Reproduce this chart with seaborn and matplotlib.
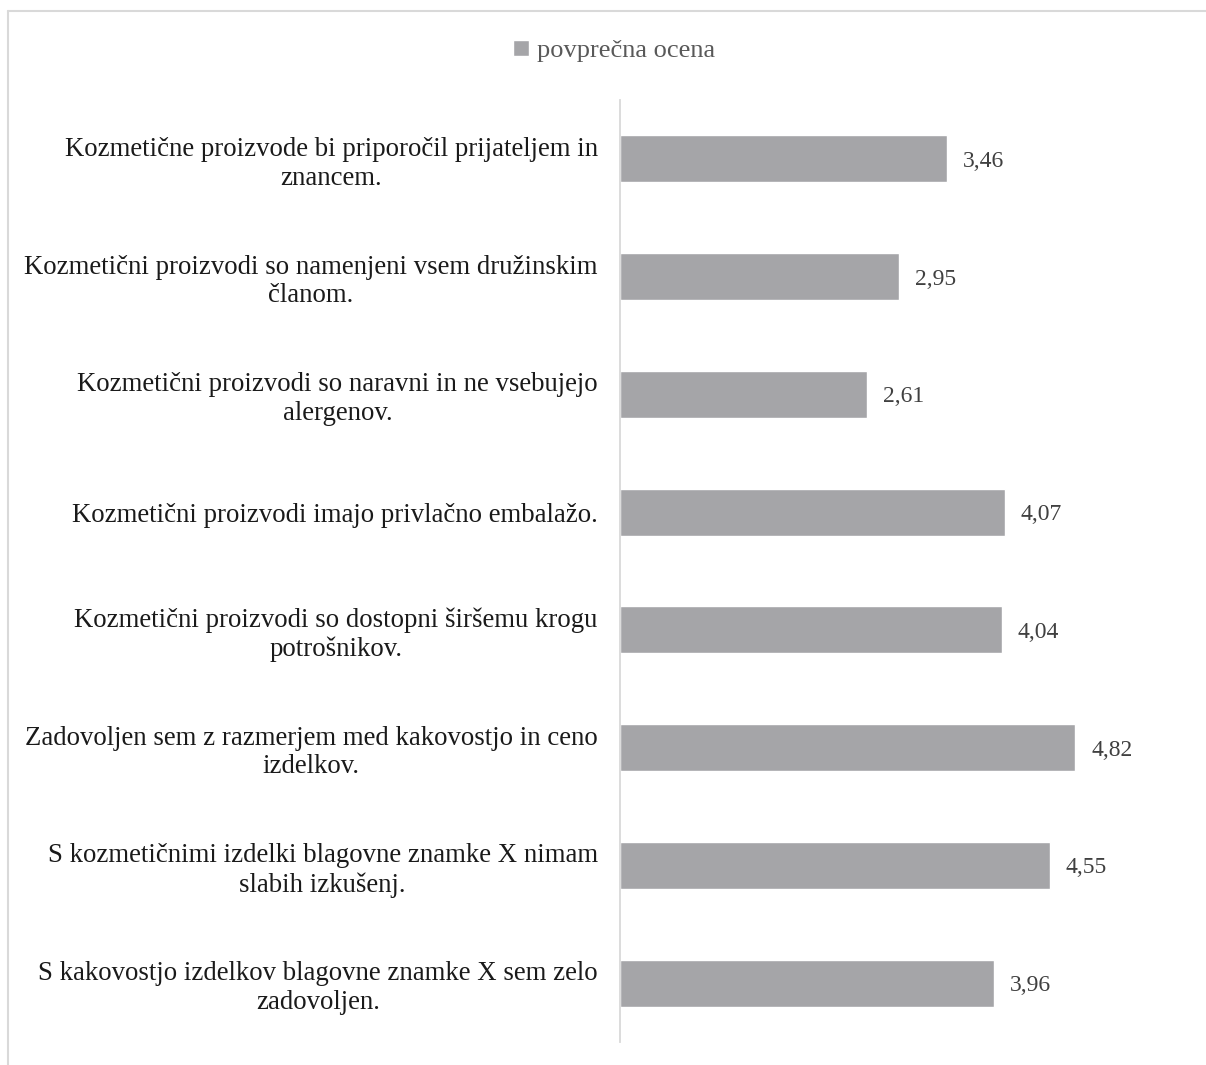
import matplotlib
matplotlib.use("Agg")
import matplotlib.pyplot as plt
import seaborn as sns
import pandas as pd
from matplotlib.lines import Line2D

categories = [
    "Kozmetične proizvode bi priporočil prijateljem in\nznancem.",
    "Kozmetični proizvodi so namenjeni vsem družinskim\nčlanom.",
    "Kozmetični proizvodi so naravni in ne vsebujejo\nalergenov.",
    "Kozmetični proizvodi imajo privlačno embalažo.",
    "Kozmetični proizvodi so dostopni širšemu krogu\npotrošnikov.",
    "Zadovoljen sem z razmerjem med kakovostjo in ceno\nizdelkov.",
    "S kozmetičnimi izdelki blagovne znamke X nimam\nslabih izkušenj.",
    "S kakovostjo izdelkov blagovne znamke X sem zelo\nzadovoljen.",
]
values = [3.46, 2.95, 2.61, 4.07, 4.04, 4.82, 4.55, 3.96]
series_name = "povprečna ocena"

sns.set_theme(style="white")
plt.rcParams['font.family'] = ['Liberation Serif', 'DejaVu Serif']

df = pd.DataFrame({"cat": categories, "val": values})

fig = plt.figure(figsize=(12.06, 10.65), dpi=100)
ax = fig.add_axes([620/1206, 1 - 1042/1065, 567/1206, 942/1065])

bar_color = "#A5A5A8"
sns.barplot(data=df, x="val", y="cat", orient="h", color=bar_color,
            width=0.4, ax=ax, label=series_name, saturation=1)

ax.set_xlim(0, 6)
ax.set_xlabel("")
ax.set_ylabel("")
ax.set_xticks([])
for s in ["top", "right", "bottom"]:
    ax.spines[s].set_visible(False)
ax.spines["left"].set_color("#D9D9D9")
ax.spines["left"].set_linewidth(1.3)

ax.tick_params(axis="y", length=0, pad=16, labelsize=19.3, labelcolor="#1a1a1a")
for t in ax.get_yticklabels():
    t.set_multialignment("center")
    t.set_linespacing(1.2)

labels = [f"{v:.2f}".replace(".", ",") for v in values]
texts = ax.bar_label(ax.containers[0], labels=labels, padding=11.5, fontsize=17, color="#404040")
for t in texts:
    t.set_va("center_baseline")

leg = ax.get_legend()
if leg is not None:
    leg.remove()
handles, labs = ax.get_legend_handles_labels()
fig.legend(handles[:1], labs[:1], loc="center", bbox_to_anchor=(614/1206, 1 - 51/1065),
           frameon=False, fontsize=19, handlelength=0.6, handleheight=0.6,
           handletextpad=0.3, labelcolor="#595959")

# figure border (partially visible)
fig.add_artist(Line2D([7.5/1206, 7.5/1206], [0, 1 - 10.5/1065], transform=fig.transFigure,
                      color="#D9D9D9", lw=1.5))
fig.add_artist(Line2D([7.5/1206, 1], [1 - 10.5/1065, 1 - 10.5/1065], transform=fig.transFigure,
                      color="#D9D9D9", lw=1.5))

fig.savefig("out.png", dpi=100)
